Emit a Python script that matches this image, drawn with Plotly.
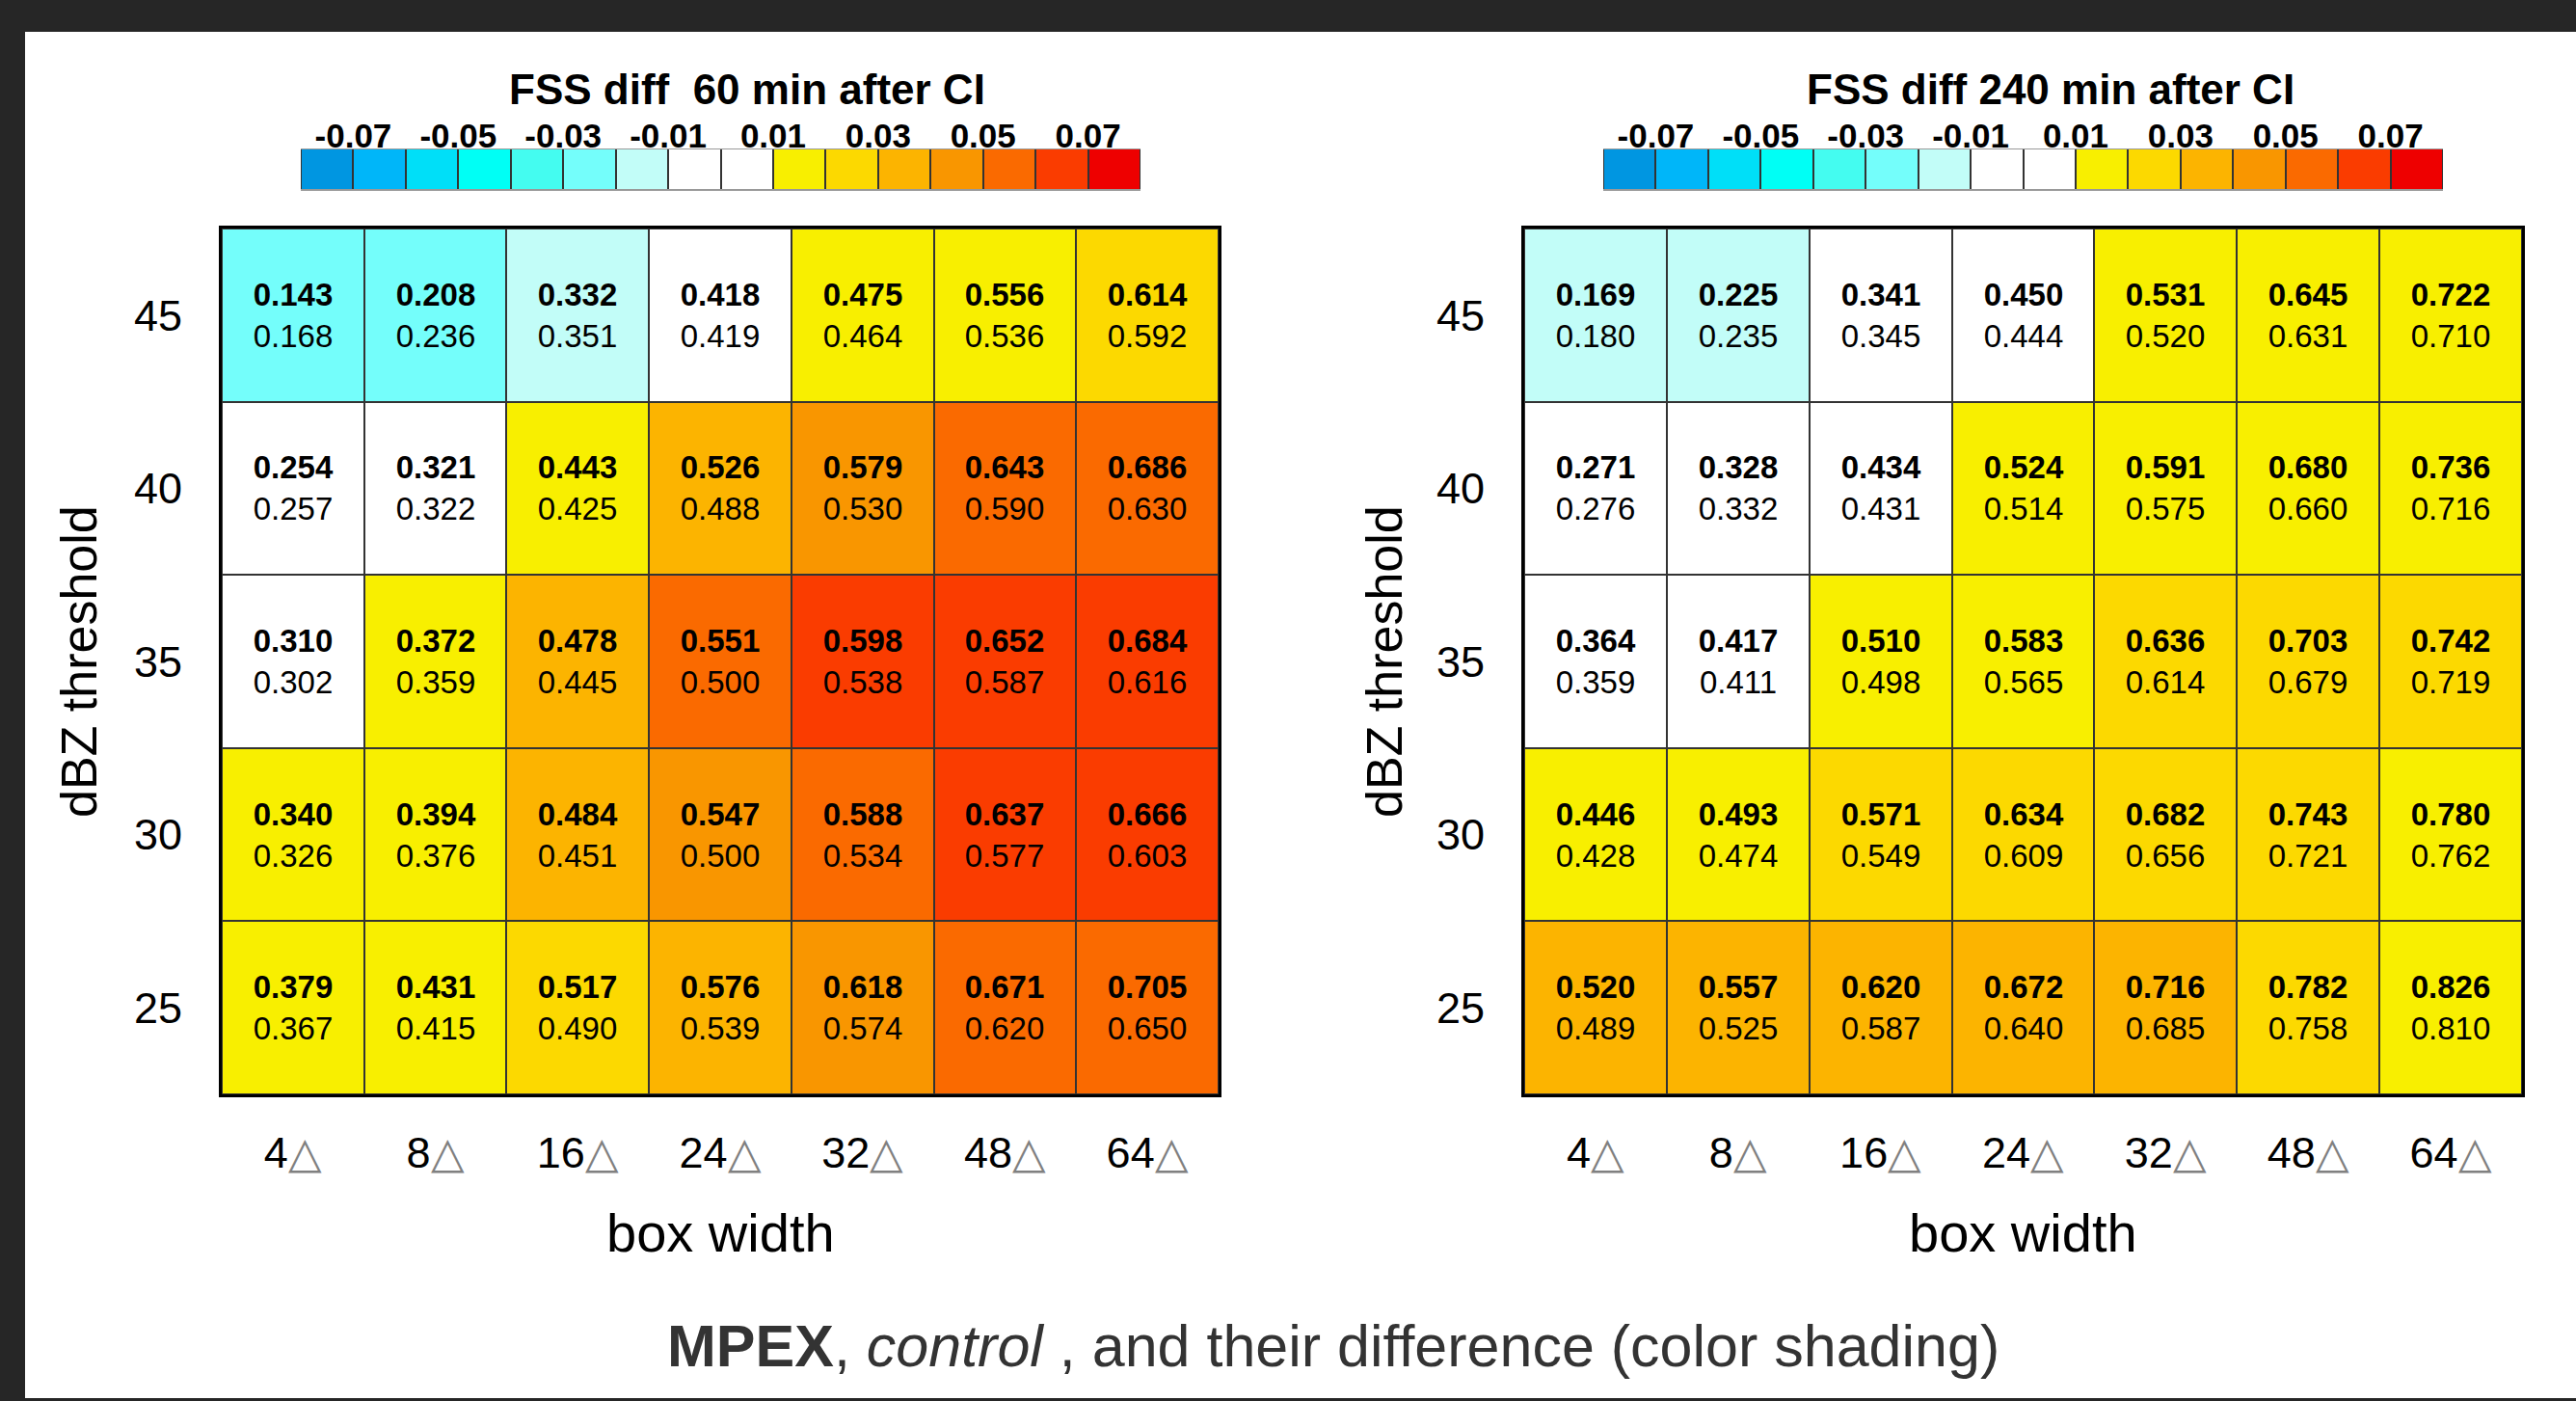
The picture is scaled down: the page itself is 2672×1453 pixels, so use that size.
import plotly.graph_objects as go

# ---------------- data ----------------
thresholds = [45, 40, 35, 30, 25]              # rows, top to bottom
box_widths = ["4", "8", "16", "24", "32", "48", "64"]

mpex_60 = [
    [0.143, 0.208, 0.332, 0.418, 0.475, 0.556, 0.614],
    [0.254, 0.321, 0.443, 0.526, 0.579, 0.643, 0.686],
    [0.310, 0.372, 0.478, 0.551, 0.598, 0.652, 0.684],
    [0.340, 0.394, 0.484, 0.547, 0.588, 0.637, 0.666],
    [0.379, 0.431, 0.517, 0.576, 0.618, 0.671, 0.705],
]
control_60 = [
    [0.168, 0.236, 0.351, 0.419, 0.464, 0.536, 0.592],
    [0.257, 0.322, 0.425, 0.488, 0.530, 0.590, 0.630],
    [0.302, 0.359, 0.445, 0.500, 0.538, 0.587, 0.616],
    [0.326, 0.376, 0.451, 0.500, 0.534, 0.577, 0.603],
    [0.367, 0.415, 0.490, 0.539, 0.574, 0.620, 0.650],
]
# difference shading (MPEX - control, unrounded estimate read from colours)
diff_60 = [
    [-0.025, -0.028, -0.019, -0.001, 0.011, 0.0195, 0.022],
    [-0.003, -0.001, 0.018, 0.038, 0.049, 0.053, 0.056],
    [0.008, 0.013, 0.033, 0.051, 0.0605, 0.065, 0.068],
    [0.014, 0.018, 0.033, 0.047, 0.054, 0.0605, 0.063],
    [0.012, 0.016, 0.027, 0.037, 0.044, 0.051, 0.055],
]

mpex_240 = [
    [0.169, 0.225, 0.341, 0.450, 0.531, 0.645, 0.722],
    [0.271, 0.328, 0.434, 0.524, 0.591, 0.680, 0.736],
    [0.364, 0.417, 0.510, 0.583, 0.636, 0.703, 0.742],
    [0.446, 0.493, 0.571, 0.634, 0.682, 0.743, 0.780],
    [0.520, 0.557, 0.620, 0.672, 0.716, 0.782, 0.826],
]
control_240 = [
    [0.180, 0.235, 0.345, 0.444, 0.520, 0.631, 0.710],
    [0.276, 0.332, 0.431, 0.514, 0.575, 0.660, 0.716],
    [0.359, 0.411, 0.498, 0.565, 0.614, 0.679, 0.719],
    [0.428, 0.474, 0.549, 0.609, 0.656, 0.721, 0.762],
    [0.489, 0.525, 0.587, 0.640, 0.685, 0.758, 0.810],
]
diff_240 = [
    [-0.011, -0.0105, -0.004, 0.006, 0.011, 0.014, 0.012],
    [-0.005, -0.004, 0.003, 0.0105, 0.016, 0.0195, 0.0195],
    [0.005, 0.006, 0.012, 0.018, 0.022, 0.024, 0.023],
    [0.018, 0.019, 0.022, 0.025, 0.026, 0.022, 0.018],
    [0.031, 0.032, 0.033, 0.032, 0.031, 0.024, 0.016],
]

levels = [-0.08, -0.07, -0.06, -0.05, -0.04, -0.03, -0.02, -0.01, 0.0,
          0.01, 0.02, 0.03, 0.04, 0.05, 0.06, 0.07, 0.08]
level_labels = ["-0.07", "-0.05", "-0.03", "-0.01", "0.01", "0.03", "0.05", "0.07"]
level_label_vals = [-0.07, -0.05, -0.03, -0.01, 0.01, 0.03, 0.05, 0.07]
level_colors = ["#0096E1", "#00B6F9", "#00DFF8", "#00FFF5", "#44FCF0", "#74FEFB",
                "#C2FDF8", "#FFFFFF", "#FFFFFF", "#F8EF00", "#FCD900", "#FCB400",
                "#F99600", "#FA6A00", "#FA3C00", "#EE0000"]

panel_titles = ["FSS diff  60 min after CI", "FSS diff 240 min after CI"]
caption = "<b>MPEX</b>, <i>control</i> , and their difference (color shading)"

# ---------------- styling ----------------
W, H = 2672, 1453
FONT = "Liberation Sans, Arial, Helvetica, sans-serif"
ZMIN, ZMAX = levels[0], levels[-1]
n = len(level_colors)
cscale = []
for i, c in enumerate(level_colors):
    cscale.append([i / n, c])
    cscale.append([(i + 1) / n, c])


def px_x(p):
    return p / W


def px_y(p):
    return 1 - p / H


fig = go.Figure()

xcols = list(range(len(box_widths)))
tick_text = [f"{b}<span style='color:#808080'>△</span>" for b in box_widths]

panels = [
    dict(mp=mpex_60, ct=control_60, df=diff_60, xa="x", ya="y", cxa="x3", cya="y3",
         grid=(230, 1264), cb=(312, 1183)),
    dict(mp=mpex_240, ct=control_240, df=diff_240, xa="x2", ya="y2", cxa="x4", cya="y4",
         grid=(1581, 2616), cb=(1663, 2534)),
]

GRID_TOP, GRID_BOT = 237, 1135
CB_TOP, CB_BOT = 155, 196

for k, p in enumerate(panels):
    text = [[f"<b>{p['mp'][r][c]:.3f}</b><br>{p['ct'][r][c]:.3f}" for c in xcols]
            for r in range(len(thresholds))]
    z = [[min(max(v, ZMIN + 1e-4), ZMAX - 1e-4) for v in row] for row in p["df"]]
    fig.add_trace(go.Heatmap(
        z=z, x=xcols, y=thresholds, text=text, texttemplate="%{text}",
        textfont=dict(family=FONT, size=33, color="black"),
        colorscale=cscale, zmin=ZMIN, zmax=ZMAX, showscale=False,
        xgap=2, ygap=2, hoverinfo="skip", xaxis=p["xa"], yaxis=p["ya"]))
    # colour key
    centers = [(levels[i] + levels[i + 1]) / 2 for i in range(n)]
    fig.add_trace(go.Heatmap(
        z=[centers], x=levels, y=[0], colorscale=cscale, zmin=ZMIN, zmax=ZMAX,
        showscale=False, xgap=2, hoverinfo="skip", xaxis=p["cxa"], yaxis=p["cya"]))

    sfx = "" if k == 0 else "2"
    csfx = "3" if k == 0 else "4"
    fig.update_layout(**{
        f"xaxis{sfx}": dict(
            domain=[px_x(p["grid"][0]), px_x(p["grid"][1])], range=[-0.5, 6.5],
            tickvals=xcols, ticktext=tick_text, ticks="outside", ticklen=19,
            tickcolor="rgba(0,0,0,0)", showgrid=False, zeroline=False,
            showline=True, mirror=True, linecolor="black", linewidth=3,
            tickfont=dict(family=FONT, size=45, color="black"),
            anchor=f"y{sfx}", fixedrange=True),
        f"yaxis{sfx}": dict(
            domain=[px_y(GRID_BOT), px_y(GRID_TOP)], range=[22.5, 47.5],
            tickvals=thresholds, ticktext=[str(t) for t in thresholds],
            ticks="outside", ticklen=29, tickcolor="rgba(0,0,0,0)",
            showgrid=False, zeroline=False, showline=True, mirror=True,
            linecolor="black", linewidth=3,
            tickfont=dict(family=FONT, size=45, color="black"),
            anchor=f"x{sfx}", fixedrange=True),
        f"xaxis{csfx}": dict(
            domain=[px_x(p["cb"][0]), px_x(p["cb"][1])], range=[ZMIN, ZMAX],
            side="top", tickvals=level_label_vals, ticktext=level_labels,
            ticks="", ticklabelstandoff=-13,
            showgrid=False, zeroline=False, showline=True, mirror=True,
            linecolor="#999999", linewidth=1.5,
            tickfont=dict(family=FONT, size=35, color="black", weight="bold"),
            anchor=f"y{csfx}", fixedrange=True),
        f"yaxis{csfx}": dict(
            domain=[px_y(CB_BOT), px_y(CB_TOP)], range=[-0.5, 0.5],
            showticklabels=False, ticks="", showgrid=False, zeroline=False,
            anchor=f"x{csfx}", fixedrange=True),
    })

annotations = []
title_centers = [775, 2127]
for k, t in enumerate(panel_titles):
    annotations.append(dict(
        text=f"<b>{t}</b>", x=px_x(title_centers[k]), y=px_y(93), xref="paper", yref="paper",
        xanchor="center", yanchor="middle", showarrow=False,
        font=dict(family=FONT, size=44, color="black")))
for gx, ytx in [((230 + 1264) / 2, 82), ((1581 + 2616) / 2, 1436)]:
    annotations.append(dict(
        text="box width", x=px_x(gx), y=px_y(1278), xref="paper", yref="paper",
        xanchor="center", yanchor="middle", showarrow=False,
        font=dict(family=FONT, size=56, color="black")))
    annotations.append(dict(
        text="dBZ threshold", x=px_x(ytx), y=px_y(686), xref="paper", yref="paper",
        xanchor="center", yanchor="middle", showarrow=False, textangle=-90,
        font=dict(family=FONT, size=52, color="black")))
annotations.append(dict(
    text=caption, x=px_x(1383), y=px_y(1396), xref="paper", yref="paper",
    xanchor="center", yanchor="middle", showarrow=False,
    font=dict(family=FONT, size=61, color="#333333")))

dark = "#262626"
shapes = [
    dict(type="rect", xref="paper", yref="paper", x0=0, x1=1, y0=px_y(33), y1=1,
         fillcolor=dark, line=dict(width=0), layer="below"),
    dict(type="rect", xref="paper", yref="paper", x0=0, x1=px_x(26), y0=0, y1=1,
         fillcolor=dark, line=dict(width=0), layer="below"),
    dict(type="rect", xref="paper", yref="paper", x0=0, x1=1, y0=0, y1=px_y(1450),
         fillcolor=dark, line=dict(width=0), layer="below"),
]

fig.update_layout(
    width=W, height=H, margin=dict(l=0, r=0, t=0, b=0),
    paper_bgcolor="white", plot_bgcolor="#333333",
    showlegend=False, annotations=annotations, shapes=shapes,
    font=dict(family=FONT),
)

fig.write_html("out.html", include_plotlyjs=True,
               config={"displayModeBar": False, "staticPlot": True},
               post_script="document.body.style.margin='0';document.body.style.overflow='hidden';")
